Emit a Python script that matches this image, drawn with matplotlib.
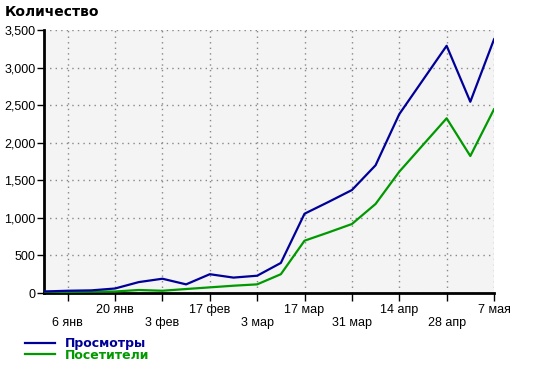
import matplotlib
matplotlib.use("Agg")
import matplotlib.pyplot as plt
from matplotlib.ticker import FuncFormatter, FixedLocator

weeks = list(range(20))
views = [20, 30, 35, 60, 145, 190, 115, 250, 205, 230, 400, 1055, 1210, 1370, 1700,
         2380, 2835, 3290, 2545, 3375]
visitors = [15, 15, 18, 20, 40, 30, 53, 75, 97, 115, 250, 696, 805, 918, 1185,
            1614, 1970, 2325, 1823, 2445]

upper_pos = [3, 7, 11, 15, 19]
upper_labels = ["20 янв", "17 фев", "17 мар", "14 апр", "7 мая"]
lower_pos = [1, 5, 9, 13, 17]
lower_labels = ["6 янв", "3 фев", "3 мар", "31 мар", "28 апр"]
yticks = [0, 500, 1000, 1500, 2000, 2500, 3000, 3500]

blue = "#000099"
green = "#009900"

plt.rcParams['font.family'] = ['Liberation Sans', 'DejaVu Sans']
fig = plt.figure(figsize=(5.33, 3.72), dpi=100)
ax = fig.add_axes([44/533, 1-293/372, 450/533, 263/372])
ax.set_facecolor("#f4f4f4")

l2, = ax.plot(weeks, visitors, color=green, lw=1.6, zorder=3)
l1, = ax.plot(weeks, views, color=blue, lw=1.6, zorder=4)

ax.set_xlim(0, 19)
ax.set_ylim(0, 3500)
ax.set_yticks(yticks)
ax.yaxis.set_major_formatter(FuncFormatter(lambda v, p: f"{int(v):,}"))
ax.set_xticks(upper_pos)
ax.set_xticklabels(upper_labels)
ax.xaxis.set_minor_locator(FixedLocator(lower_pos))
ax.set_xticklabels(lower_labels, minor=True)

ax.tick_params(axis='x', which='major', length=6, width=1, pad=2, labelsize=9, direction='out')
ax.tick_params(axis='x', which='minor', length=6, width=1, pad=11, labelsize=9, direction='out')
ax.tick_params(axis='y', length=5, width=1, pad=1, labelsize=9, direction='out')

ax.grid(True, which='both', axis='x', color='#888888', ls=(0, (1, 3)), lw=1)
ax.grid(True, which='major', axis='y', color='#888888', ls=(0, (1, 3)), lw=1)
ax.set_axisbelow(True)

for s in ['top', 'right']:
    ax.spines[s].set_visible(False)
for s in ['left', 'bottom']:
    ax.spines[s].set_linewidth(2)
    ax.spines[s].set_color('black')

fig.text(5/533, 1-12/372, "Количество", fontsize=10, fontweight='bold', va='center', ha='left',
         family=['DejaVu Sans'])

leg = fig.legend([l1, l2], ["Просмотры", "Посетители"], loc='upper left',
                 bbox_to_anchor=(14/533, 1-326/372), frameon=False,
                 handlelength=2.4, handletextpad=0.8, labelspacing=-0.12,
                 prop={'weight': 'bold', 'size': 9, 'family': ['DejaVu Sans']})
for t, c in zip(leg.get_texts(), [blue, green]):
    t.set_color(c)

fig.savefig("out.png", dpi=100)
